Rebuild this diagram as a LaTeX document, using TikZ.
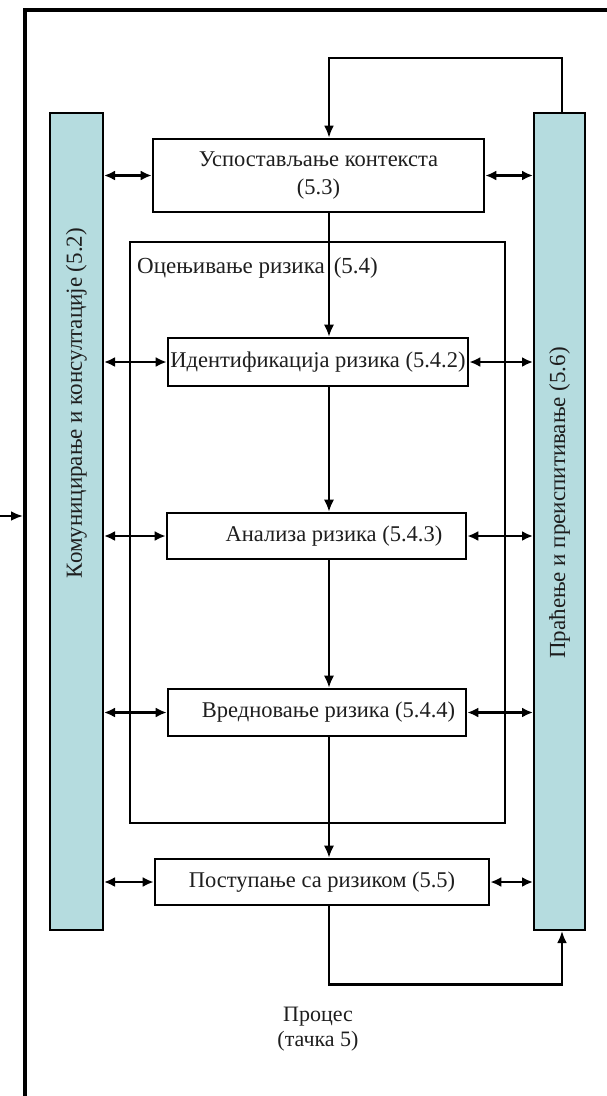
\documentclass[tikz,border=0pt]{standalone}
\usepackage{fontspec}
\setmainfont{Liberation Serif}
\usetikzlibrary{arrows.meta,calc}
\definecolor{riskBar}{HTML}{B5DCDF}
\definecolor{riskInk}{HTML}{1E1E1E}
\tikzset{
  riskbox/.style={draw=black,fill=white,line width=2.6pt,inner sep=1pt,
    text=riskInk,font=\fontsize{22.5}{28}\selectfont},
  riskbar/.style={draw=black,fill=riskBar,line width=2pt},
  barlabel/.style={rotate=90,text=riskInk,font=\fontsize{23}{26}\selectfont},
  riskflow/.style={-{Latex[length=12pt,width=10pt]},line width=1.8pt},
  risklink/.style={{Latex[length=11pt,width=10pt]}-{Latex[length=11pt,width=10pt]},line width=2.8pt},
  riskloop/.style={-{Latex[length=12pt,width=10pt]},line width=2.8pt}
}
\begin{document}
\begin{tikzpicture}[x=1pt,y=-1pt]
  \useasboundingbox (0,0) rectangle (607,1096);
  % outer frame
  \draw[line width=4.5pt] (25,1130) -- (25,10) -- (650,10);
  \coordinate (input) at (0,516);
  \coordinate (frameedge) at (23,516);
  \draw[riskloop] (input) -- (frameedge);

  % side bars
  \node[riskbar,minimum width=53pt,minimum height=817pt] (comm) at (76.5,521.5) {};
  \node[riskbar,minimum width=51pt,minimum height=817pt] (monitor) at (559.5,521.5) {};
  \node[barlabel] (commtext) at (76.5,403) {Комуницирање и консултације (5.2)};
  \node[barlabel] (monitortext) at (559.5,503) {Праћење и преиспитивање (5.6)};

  % assessment frame
  \draw[line width=1.8pt] (130,242) rectangle (505,823);
  \node[anchor=west,inner sep=0pt,text=riskInk,font=\fontsize{23}{26}\selectfont] (assesslabel) at (137,268) {Оцењивање ризика\hspace{9pt}(5.4)};

  % process steps
  \node[riskbox,minimum width=331pt,minimum height=73pt,align=center] (ctx) at (318.5,175.5) {Успостављање контекста\\(5.3)};
  \node[riskbox,minimum width=300pt,minimum height=48pt] (ident) at (318,362) {Идентификација ризика (5.4.2)};
  \node[riskbox,minimum width=299pt,minimum height=46pt] (anal) at (316.5,536) {\hspace*{35pt}Анализа ризика (5.4.3)};
  \node[riskbox,minimum width=298pt,minimum height=47pt] (vred) at (317,712.5) {\hspace*{23pt}Вредновање ризика (5.4.4)};
  \node[riskbox,minimum width=334pt,minimum height=46pt] (post) at (322,882) {Поступање са ризиком (5.5)};

  \node[align=center,text=riskInk,font=\fontsize{22}{25}\selectfont] (process) at (318,1029) {Процес\\(тачка 5)};

  % main flow
  \coordinate (spine) at (329,0);
  \coordinate (loopx) at (562,0);
  \draw[riskflow] (spine |- ctx.south) -- (spine |- ident.north);
  \draw[riskflow] (spine |- ident.south) -- (spine |- anal.north);
  \draw[riskflow] (spine |- anal.south) -- (spine |- vred.north);
  \draw[riskflow] (spine |- vred.south) -- (spine |- post.north);

  % links to the bars
  \foreach \step in {ctx,ident,anal,vred,post}{
    \draw[risklink] (comm.east |- \step) -- (\step.west);
    \draw[risklink] (\step.east) -- (monitor.west |- \step);
  }

  % feedback loops
  \draw[riskloop] (loopx |- monitor.north) -- ++(0,-54) -| (spine |- ctx.north);
  \draw[riskloop] (spine |- post.south) -- ++(0,78) -| (loopx |- monitor.south);
\end{tikzpicture}
\end{document}
